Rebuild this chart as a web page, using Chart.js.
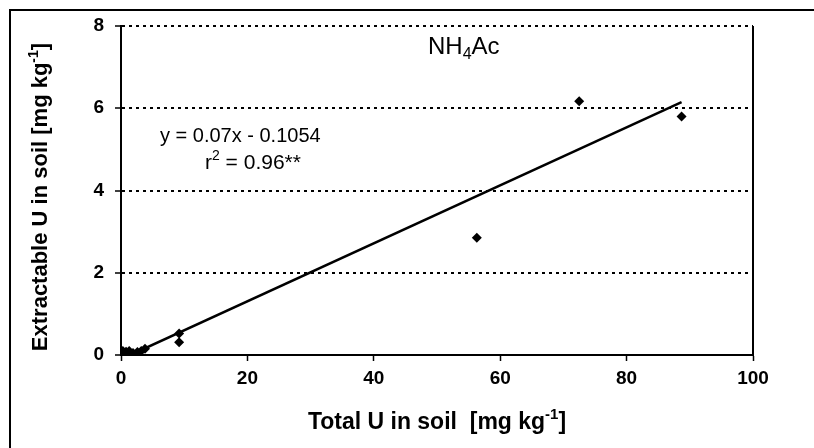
<!DOCTYPE html>
<html><head><meta charset="utf-8">
<script src="https://cdn.jsdelivr.net/npm/chart.js@4/dist/chart.umd.min.js"></script>
<style>html,body{margin:0;padding:0;background:#fff}</style>
</head><body>
<canvas id="c" width="814" height="448"></canvas>
<script>
// Data
const totalU   = [0.3, 0.8, 1.3, 1.9, 2.6, 3.2, 3.8, 9.2, 9.2, 56.3, 72.5, 88.7];
const extractU = [0.10, 0.08, 0.10, 0.05, 0.07, 0.10, 0.15, 0.52, 0.31, 2.85, 6.17, 5.80];
const trendX = [1.5, 88.7];
const trendY = [0.0, 6.15];
const xTicks = [0, 20, 40, 60, 80, 100];
const yTicks = [0, 2, 4, 6, 8];
const xTitle = ['Total U in soil  [mg kg', '-1', ']'];
const yTitle = ['Extractable U in soil [mg kg', '-1', ']'];
const reagent = ['NH', '4', 'Ac'];
const eqText = 'y = 0.07x - 0.1054';
const r2Text = ['r', '2', ' = 0.96**'];

const FONT = '"Liberation Sans", Arial, sans-serif';

function drawParts(ctx, parts, x, y, size, weight, align) {
  const small = Math.round(size * 0.65);
  const fontFor = m => `${weight} ${m === 'n' ? size : small}px ${FONT}`;
  let total = 0;
  parts.forEach(p => { ctx.font = fontFor(p.mode); total += ctx.measureText(p.t).width; });
  let cx = align === 'center' ? x - total / 2 : x;
  ctx.textAlign = 'left';
  ctx.textBaseline = 'alphabetic';
  parts.forEach(p => {
    ctx.font = fontFor(p.mode);
    let dy = 0;
    if (p.mode === 'sup') dy = -size * 0.42;
    if (p.mode === 'sub') dy = size * 0.22;
    ctx.fillText(p.t, cx, y + dy);
    cx += ctx.measureText(p.t).width;
  });
}

const decor = {
  id: 'decor',
  beforeDraw(chart) {
    const ctx = chart.ctx;
    ctx.save();
    ctx.fillStyle = '#fff';
    ctx.fillRect(0, 0, chart.width, chart.height);
    ctx.restore();
  },
  afterDraw(chart) {
    const ctx = chart.ctx;
    const a = chart.chartArea;
    ctx.save();
    ctx.strokeStyle = '#000';
    ctx.lineWidth = 2;
    ctx.beginPath();
    ctx.moveTo(10, chart.height);
    ctx.lineTo(10, 10);
    ctx.lineTo(chart.width, 10);
    ctx.stroke();
    ctx.beginPath();
    ctx.moveTo(a.right, a.top);
    ctx.lineTo(a.right, a.bottom);
    ctx.stroke();
    ctx.fillStyle = '#000';
    drawParts(ctx, [{t: xTitle[0], mode: 'n'}, {t: xTitle[1], mode: 'sup'}, {t: xTitle[2], mode: 'n'}],
      (a.left + a.right) / 2, 429, 23, 'bold', 'center');
    ctx.save();
    ctx.translate(47, 197);
    ctx.rotate(-Math.PI / 2);
    drawParts(ctx, [{t: yTitle[0], mode: 'n'}, {t: yTitle[1], mode: 'sup'}, {t: yTitle[2], mode: 'n'}],
      0, 0, 22, 'bold', 'center');
    ctx.restore();
    drawParts(ctx, [{t: reagent[0], mode: 'n'}, {t: reagent[1], mode: 'sub'}, {t: reagent[2], mode: 'n'}],
      428, 54, 24, 'normal', 'left');
    drawParts(ctx, [{t: eqText, mode: 'n'}], 160, 142, 20, 'normal', 'left');
    drawParts(ctx, [{t: r2Text[0], mode: 'n'}, {t: r2Text[1], mode: 'sup'}, {t: r2Text[2], mode: 'n'}],
      205, 169, 21, 'normal', 'left');
    ctx.restore();
  }
};

new Chart(document.getElementById('c'), {
  type: 'scatter',
  data: {
    datasets: [
      {
        type: 'line',
        data: trendX.map((x, i) => ({x, y: trendY[i]})),
        borderColor: '#000',
        borderWidth: 2.5,
        pointRadius: 0,
        fill: false,
        order: 2
      },
      {
        data: totalU.map((x, i) => ({x, y: extractU[i]})),
        pointStyle: 'rectRot',
        pointRadius: 5,
        pointHoverRadius: 5,
        backgroundColor: '#000',
        borderColor: '#000',
        borderWidth: 0,
        order: 1
      }
    ]
  },
  options: {
    responsive: false,
    animation: false,
    events: [],
    layout: { padding: { left: 0, top: 26, right: 61, bottom: 0 } },
    plugins: { legend: { display: false }, tooltip: { enabled: false } },
    scales: {
      x: {
        type: 'linear', min: 0, max: 100,
        afterFit(s) { s.height = 93; },
        afterBuildTicks(s) { s.ticks = xTicks.map(v => ({value: v})); },
        ticks: { color: '#000', font: { family: FONT, size: 19, weight: 'bold' }, padding: 6 },
        grid: { drawOnChartArea: false, tickLength: 6, tickColor: '#000', tickWidth: 1.5 },
        border: { color: '#000', width: 2 }
      },
      y: {
        type: 'linear', min: 0, max: 8,
        afterFit(s) { s.width = 121; },
        afterBuildTicks(s) { s.ticks = yTicks.map(v => ({value: v})); },
        ticks: { color: '#000', font: { family: FONT, size: 19, weight: 'bold' }, padding: 11 },
        grid: {
          color: c => (c.tick && c.tick.value === 0) ? 'rgba(0,0,0,0)' : '#000',
          lineWidth: 2, tickLength: 6, tickColor: '#000', tickWidth: 1.5, tickBorderDash: []
        },
        border: { color: '#000', width: 2, dash: [3, 4] }
      }
    }
  },
  plugins: [decor]
});
</script>
</body></html>
